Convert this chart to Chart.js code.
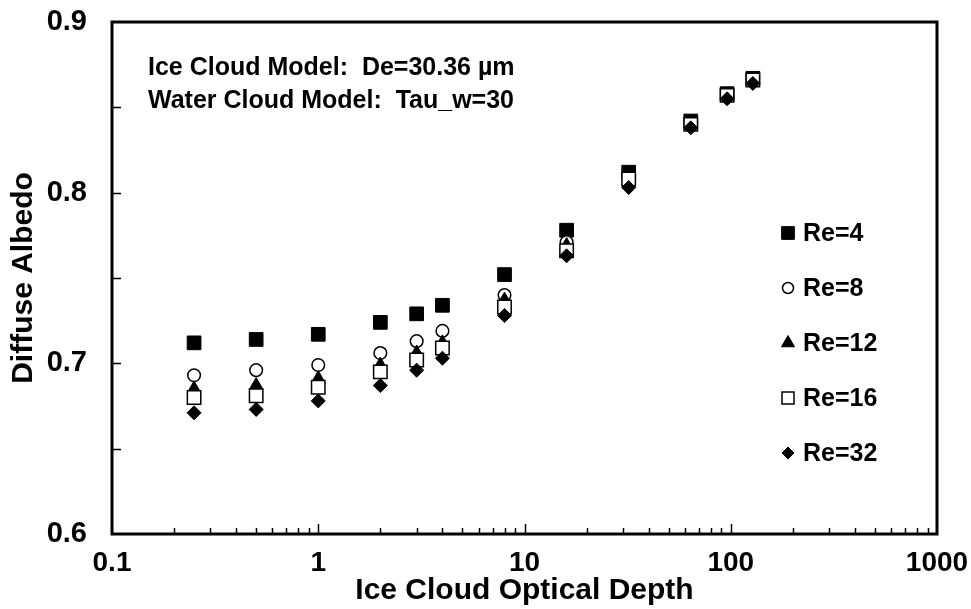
<!DOCTYPE html>
<html>
<head>
<meta charset="utf-8">
<script src="https://cdn.jsdelivr.net/npm/chart.js@4.4.0/dist/chart.umd.min.js"></script>
<style>
    html, body { margin: 0; padding: 0; background: #fff; }
</style>
</head>
<body>
<canvas id="albedoChart" width="971" height="609"></canvas>
<script>
// ice cloud optical depth (x) and diffuse albedo per effective radius
const opticalDepth = [0.25, 0.5, 1, 2, 3, 4, 8, 16, 32, 64, 96, 128];
const re4  = [0.712, 0.714, 0.717, 0.724, 0.729, 0.734, 0.752, 0.778, 0.812, 0.842, 0.858, 0.867];
const re8  = [0.693, 0.696, 0.699, 0.706, 0.713, 0.719, 0.740, 0.771, 0.809, 0.841, 0.857, 0.866];
const re12 = [0.685, 0.687, 0.691, 0.699, 0.706, 0.712, 0.737, 0.769, 0.807, 0.840, 0.856, 0.865];
const re16 = [0.680, 0.681, 0.686, 0.695, 0.702, 0.709, 0.733, 0.766, 0.808, 0.840, 0.857, 0.866];
const re32 = [0.671, 0.673, 0.678, 0.687, 0.696, 0.703, 0.728, 0.763, 0.803, 0.838, 0.855, 0.864];
const seriesLabels = ['Re=4', 'Re=8', 'Re=12', 'Re=16', 'Re=32'];

const xTickValues = [0.1, 1, 10, 100, 1000];
const xTickLabels = ['0.1', '1', '10', '100', '1000'];
const yTickValues = [0.6, 0.7, 0.8, 0.9];
const yMinorValues = [0.65, 0.7, 0.75, 0.8, 0.85];

const annotationLines = ['Ice Cloud Model:  De=30.36 \u00b5m', 'Water Cloud Model:  Tau_w=30'];

const FONT = "'Liberation Sans', Arial, sans-serif";

const markerStyles = [
    { pointStyle: 'rect', radius: 9.7, fill: '#000', border: 1, legendRadius: 9 },
    { pointStyle: 'circle', radius: 6.3, fill: '#fff', border: 1.5, legendRadius: 5.5 },
    { pointStyle: 'triangle', radius: 8, fill: '#000', border: 1, legendRadius: 7.5 },
    { pointStyle: 'rect', radius: 9.5, fill: '#fff', border: 1.5, legendRadius: 8.5 },
    { pointStyle: 'rectRot', radius: 7, fill: '#000', border: 1, legendRadius: 6 }
];

function toPoints(values) {
    return opticalDepth.map((x, i) => ({ x: x, y: values[i] }));
}

const seriesValues = [re4, re8, re12, re16, re32];
const datasets = seriesValues.map((values, i) => ({
    label: seriesLabels[i],
    data: toPoints(values),
    pointStyle: markerStyles[i].pointStyle,
    pointRadius: markerStyles[i].radius,
    pointHoverRadius: markerStyles[i].radius,
    backgroundColor: markerStyles[i].fill,
    borderColor: '#000',
    borderWidth: markerStyles[i].border,
    showLine: false,
    order: seriesValues.length - i   // later series drawn on top
}));

// frame, inward tick marks, notes and legend
const decorations = {
    id: 'decorations',
    afterDatasetsDraw(chart) {
        const ctx = chart.ctx;
        const area = chart.chartArea;
        const xs = chart.scales.x;
        const ys = chart.scales.y;
        ctx.save();
        ctx.strokeStyle = '#000';

        ctx.lineWidth = 1.5;
        ctx.beginPath();
        yMinorValues.forEach(v => {
            const py = Math.round(ys.getPixelForValue(v)) + 0.5;
            ctx.moveTo(area.left, py);
            ctx.lineTo(area.left + 9, py);
        });
        for (let d = 0; d < xTickValues.length; d++) {
            const base = xTickValues[d];
            for (let m = 1; m <= 9; m++) {
                const v = base * m;
                if (v <= xs.min || v >= xs.max) continue;
                const px = Math.round(xs.getPixelForValue(v)) + 0.5;
                ctx.moveTo(px, area.bottom);
                ctx.lineTo(px, area.bottom - (m === 1 ? 10 : 6));
            }
        }
        ctx.stroke();

        ctx.lineWidth = 3;
        ctx.strokeRect(area.left, area.top, area.right - area.left, area.bottom - area.top);

        ctx.fillStyle = '#000';
        ctx.font = 'bold 25px ' + FONT;
        ctx.textAlign = 'left';
        ctx.textBaseline = 'alphabetic';
        annotationLines.forEach((line, i) => {
            ctx.fillText(line, area.left + 36, area.top + 53 + i * 33);
        });

        const helpers = Chart.helpers;
        ctx.textBaseline = 'middle';
        seriesLabels.forEach((label, i) => {
            const y = 233 + i * 55;
            const st = markerStyles[i];
            ctx.fillStyle = st.fill;
            ctx.strokeStyle = '#000';
            ctx.lineWidth = st.border;
            helpers.drawPoint(ctx, { pointStyle: st.pointStyle, radius: st.legendRadius, rotation: 0, borderWidth: st.border }, 788, y);
            ctx.fillStyle = '#000';
            ctx.fillText(label, 803, y + 1);
        });
        ctx.restore();
    }
};

new Chart(document.getElementById('albedoChart').getContext('2d'), {
    type: 'scatter',
    data: { datasets: datasets },
    options: {
        responsive: false,
        animation: false,
        devicePixelRatio: 1,
        layout: {
            autoPadding: false,
            padding: { left: 0, top: 22, right: 34, bottom: 0 }
        },
        scales: {
            x: {
                type: 'logarithmic',
                min: 0.1,
                max: 1000,
                afterBuildTicks: scale => {
                    scale.ticks = xTickValues.map(v => ({ value: v }));
                },
                afterFit: scale => {
                    scale.height = 75;
                    scale.paddingLeft = 0;
                    scale.paddingRight = 0;
                },
                grid: { display: false },
                border: { display: false },
                ticks: {
                    autoSkip: false,
                    maxRotation: 0,
                    color: '#000',
                    padding: 4,
                    font: { family: FONT, size: 28, weight: 'bold' },
                    callback: (value, index) => xTickLabels[index]
                },
                title: {
                    display: true,
                    text: 'Ice Cloud Optical Depth',
                    color: '#000',
                    padding: { top: 0, bottom: 0 },
                    font: { family: FONT, size: 30, weight: 'bold' }
                }
            },
            y: {
                min: 0.6,
                max: 0.9,
                afterBuildTicks: scale => {
                    scale.ticks = yTickValues.map(v => ({ value: v }));
                },
                afterFit: scale => {
                    scale.width = 112;
                    scale.paddingTop = 0;
                    scale.paddingBottom = 0;
                },
                grid: { display: false },
                border: { display: false },
                ticks: {
                    color: '#000',
                    padding: 17,
                    font: { family: FONT, size: 29, weight: 'bold' },
                    callback: value => value.toFixed(1)
                },
                title: {
                    display: true,
                    text: 'Diffuse Albedo',
                    color: '#000',
                    padding: { top: 6, bottom: 0 },
                    font: { family: FONT, size: 30, weight: 'bold' }
                }
            }
        },
        plugins: {
            legend: { display: false },
            tooltip: { enabled: false }
        }
    },
    plugins: [decorations]
});
</script>
</body>
</html>
